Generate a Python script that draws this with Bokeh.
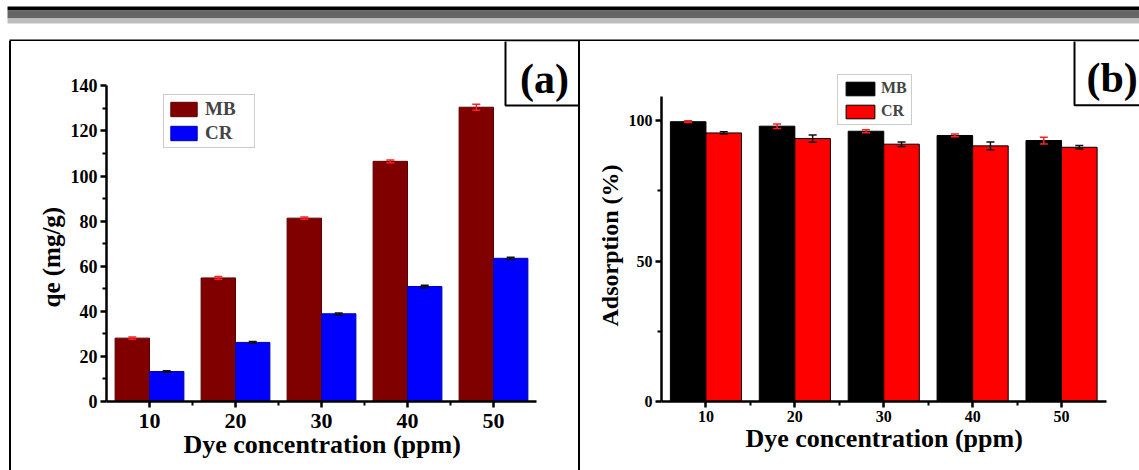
import math
from bokeh.plotting import figure
from bokeh.models import (ColumnDataSource, Range1d, FixedTicker, Legend, LegendItem,
                          Whisker, TeeHead, Title, Spacer)
from bokeh.layouts import column, row
from bokeh.embed import file_html
from bokeh.resources import INLINE
from bokeh.core.properties import value

# ---------------- data ----------------
concentration = [10, 20, 30, 40, 50]
qe_mb = [28.1, 54.8, 81.3, 106.5, 130.5]
qe_mb_err = [0.5, 0.6, 0.5, 0.6, 1.3]
qe_cr = [13.3, 26.2, 38.9, 51.0, 63.5]
qe_cr_err = [0.3, 0.4, 0.4, 0.6, 0.5]
ads_mb = [99.6, 98.0, 96.2, 94.7, 92.9]
ads_mb_err = [0.3, 0.8, 0.5, 0.5, 1.2]
ads_cr = [95.6, 93.6, 91.6, 91.0, 90.5]
ads_cr_err = [0.4, 1.3, 0.8, 1.4, 0.6]
x_ticks = [10, 20, 30, 40, 50]
x_minor_ticks = [15, 25, 35, 45]
qe_ticks = [0, 20, 40, 60, 80, 100, 120, 140]
qe_minor_ticks = [10, 30, 50, 70, 90, 110, 130]
ads_ticks = [0, 50, 100]
ads_minor_ticks = [25, 75]
series_names = ["MB", "CR"]

FONT = "Liberation Serif"
BAR_W = 4
H = 429          # panel canvas height (page y 41 .. 470)
TOP = 41         # page y of panel top

# header with grey bars and top panel border
hdr = figure(width=1139, height=TOP, min_border=0, toolbar_location=None,
             output_backend="svg", x_axis_location=None, y_axis_location=None,
             outline_line_color=None, x_range=Range1d(0, 1139), y_range=Range1d(TOP, 0))
hdr.xgrid.visible = False
hdr.ygrid.visible = False
hdr.quad(left=[7, 7, 7, 9], right=[1139] * 4, top=[6, 10, 18, 39], bottom=[10, 18, 23, 41],
         fill_color=["#000000", "#666666", "#bdbdbd", "#000000"], line_color=None)


def panel(page_left, width, frame_left, frame_bottom, x_px_unit, y_px_unit,
          mb_vals, mb_err, cr_vals, cr_err, mb_color, cr_color, mb_line, cr_line,
          yticks, yminor, ybound, ytick_size, xtick_size, xstand):
    frame_right = page_left + width
    x_end = 5 + (frame_right - frame_left) / x_px_unit
    y_end = (frame_bottom - TOP) / y_px_unit
    p = figure(width=width, height=H, x_range=Range1d(5, x_end), y_range=Range1d(0, y_end),
               min_border_left=frame_left - page_left, min_border_right=0, min_border_top=0,
               min_border_bottom=TOP + H - frame_bottom, toolbar_location=None,
               output_backend="svg", outline_line_color=None,
               background_fill_color="white", border_fill_color="white")
    p.extra_x_ranges = {"px": Range1d(frame_left, frame_right)}
    p.extra_y_ranges = {"py": Range1d(frame_bottom, TOP)}
    p.xgrid.visible = False
    p.ygrid.visible = False

    src = ColumnDataSource(dict(
        x=concentration,
        x_mb=[c - BAR_W / 2 for c in concentration],
        x_cr=[c + BAR_W / 2 for c in concentration],
        mb=mb_vals, cr=cr_vals,
        mb_up=[v + e for v, e in zip(mb_vals, mb_err)],
        mb_lo=[v - e for v, e in zip(mb_vals, mb_err)],
        cr_up=[v + e for v, e in zip(cr_vals, cr_err)],
        cr_lo=[v - e for v, e in zip(cr_vals, cr_err)],
    ))
    r1 = p.vbar(x="x_mb", top="mb", bottom=0, width=BAR_W, source=src,
                fill_color=mb_color, line_color=mb_line, line_width=1)
    r2 = p.vbar(x="x_cr", top="cr", bottom=0, width=BAR_W, source=src,
                fill_color=cr_color, line_color=cr_line, line_width=1)
    for base, up, lo, col in [("x_mb", "mb_up", "mb_lo", "#ff2020"),
                              ("x_cr", "cr_up", "cr_lo", "#101010")]:
        w = Whisker(base=base, upper=up, lower=lo, source=src, level="annotation",
                    line_color=col, line_width=1.5,
                    upper_head=TeeHead(size=8, line_color=col, line_width=1.5),
                    lower_head=TeeHead(size=8, line_color=col, line_width=1.5))
        p.add_layout(w)

    p.xaxis.ticker = FixedTicker(ticks=x_ticks, minor_ticks=x_minor_ticks)
    p.xaxis.bounds = (5, 55)
    p.yaxis.ticker = FixedTicker(ticks=yticks, minor_ticks=yminor)
    p.yaxis.bounds = (0, ybound)
    for ax in (p.xaxis[0], p.yaxis[0]):
        ax.axis_line_width = 2.5
        ax.axis_line_color = "black"
        ax.major_tick_line_width = 2.5
        ax.minor_tick_line_width = 2
        ax.major_tick_line_color = "black"
        ax.minor_tick_line_color = "black"
        ax.major_tick_in = 0
        ax.major_tick_out = 6
        ax.minor_tick_in = 0
        ax.minor_tick_out = 4
        ax.major_label_text_font = FONT
        ax.major_label_text_font_style = "bold"
        ax.major_label_text_color = "black"
    p.xaxis.major_label_text_font_size = xtick_size
    p.xaxis.major_label_standoff = xstand
    p.yaxis.major_label_text_font_size = ytick_size
    p.yaxis.major_label_standoff = 3
    return p, r1, r2


def axis_title(text, size, offset, standoff):
    # align="left": text starts at the frame's left (below) / bottom (left) edge + offset
    return Title(text=text, align="left", offset=offset, standoff=standoff,
                 text_font=FONT, text_font_style="bold", text_font_size=size,
                 text_color="black")


# ---------------- panel (a) ----------------
pa, a1, a2 = panel(11, 567, 106, 401, 8.6, 2.255, qe_mb, qe_mb_err, qe_cr, qe_cr_err,
                   "#800000", "#0000ff", "#5a0000", "#0000b0",
                   qe_ticks, qe_minor_ticks, 140, "18px", "22px", 6)
leg_a = Legend(items=[LegendItem(label=series_names[0], renderers=[a1]),
                      LegendItem(label=series_names[1], renderers=[a2])],
               location=(57, 253), orientation="vertical", padding=3, spacing=2, margin=0,
               glyph_width=33, glyph_height=18, label_height=18, label_width=46,
               label_standoff=5, label_text_font=FONT, label_text_font_style="bold",
               label_text_font_size="19px", border_line_color="#9a9a9a",
               border_line_width=1, background_fill_color="white")
pa.add_layout(leg_a)
pa.add_layout(axis_title("qe (mg/g)", "25px", 94, 6), "left")
pa.add_layout(axis_title("Dye concentration (ppm)", "26px", 77, -5), "below")
pa.quad(left=[505], right=[580], top=[40], bottom=[105], fill_color=None, line_color="black",
        line_width=2, x_range_name="px", y_range_name="py")
pa.text(x=[544], y=[78], text=["(a)"], x_range_name="px", y_range_name="py",
        text_font=value(FONT), text_font_style="bold", text_font_size="42px",
        text_align="center", text_baseline="alphabetic", text_color="black")
pa.styles = {"box-shadow": "-2px 0 0 0 #000000, 2px 0 0 0 #000000"}

# ---------------- panel (b) ----------------
pb, b1, b2 = panel(580, 559, 661, 402, 8.89, 2.817, ads_mb, ads_mb_err, ads_cr, ads_cr_err,
                   "#000000", "#ff0000", "#000000", "#000000",
                   ads_ticks, ads_minor_ticks, 108.5, "16px", "16px", 3)
leg_b = Legend(items=[LegendItem(label=series_names[0], renderers=[b1]),
                      LegendItem(label=series_names[1], renderers=[b2])],
               location=(176, 276), orientation="vertical", padding=4, spacing=5, margin=0,
               glyph_width=36, glyph_height=17, label_height=17, label_width=26,
               label_standoff=3, label_text_font=FONT, label_text_font_style="bold",
               label_text_font_size="16px", border_line_color="#9a9a9a",
               border_line_width=1, background_fill_color="white")
pb.add_layout(leg_b)
pb.add_layout(axis_title("Adsorption (%)", "24px", 75, 5), "left")
pb.add_layout(axis_title("Dye concentration (ppm)", "26px", 84, -5), "below")
pb.quad(left=[1074], right=[1160], top=[40], bottom=[105], fill_color=None, line_color="black",
        line_width=2, x_range_name="px", y_range_name="py")
pb.text(x=[1086], y=[78], text=["(b)"], x_range_name="px", y_range_name="py",
        text_font=value(FONT), text_font_style="bold", text_font_size="42px",
        text_align="left", text_baseline="alphabetic", text_color="black")

layout = column(hdr, row(Spacer(width=11, height=H), pa, Spacer(width=2, height=H), pb))
open("out.html", "w").write(file_html(layout, INLINE))
